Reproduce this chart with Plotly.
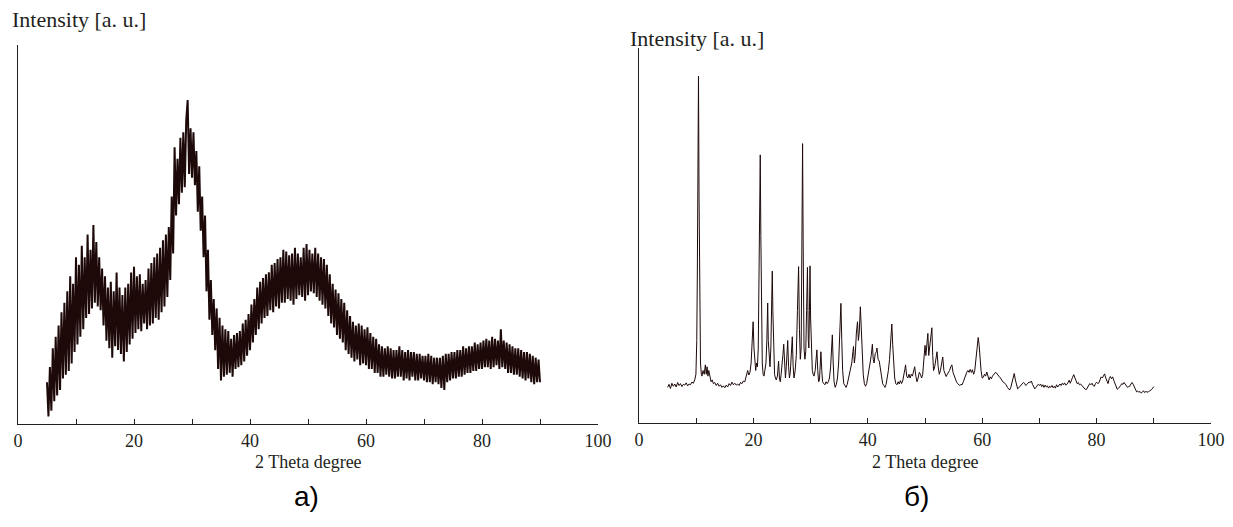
import numpy as np
import plotly.graph_objects as go

# ---------------- data ----------------
# Panel a): amorphous pattern, scan grid 5..90 deg, step 0.25
theta_a = np.round(np.arange(5, 90.001, 0.25), 2)
intensity_a = [
    11, 2, 15, 3.5,  20, 6, 23, 7.5,  26, 9, 29.5, 12,  32, 13, 35, 14,  39, 16, 37, 19,
    44, 21, 42, 23,  47, 25, 44, 28,  50, 29, 46, 30.5,  52.5, 32, 48, 31,  44, 30, 41, 26,
    39, 22, 36, 20,  37.5, 17.5, 35, 20.5,  40, 19.5, 36, 18.5,  34, 16.5, 36, 19,  37, 21, 40, 22.5,
    41.5, 24, 39, 25,  39.5, 24.5, 37, 26.5,  38, 25, 41, 26,  42.5, 26.5, 44, 28,  45, 27.5, 46.5, 29.5,
    48.5, 31, 50, 33.5,  52, 38, 60, 45,  73, 55, 70, 58,  75.5, 61, 77, 62.5,  80, 85.5, 66, 78,
    65, 77, 63, 72,  56, 68, 51, 60,  44, 55, 35, 46,  27.5, 38, 23.5, 33,  19.5, 30.5, 14.5, 28,
    11.5, 26, 12.5, 25,  13, 24.5, 13.5, 22.5,  12.5, 23.5, 14.5, 24,  15, 24.5, 15.5, 26.5,  16.5, 27.5, 18, 29,
    19.5, 31.5, 21.5, 33,  23.5, 36, 25, 37.5,  26.5, 38.5, 28, 39.5,  28.5, 40, 30, 42,  29.5, 42.5, 31, 43.5,
    30.5, 44, 32, 46,  32, 45.5, 33, 44.5,  32.5, 45, 31.5, 46.5,  33, 45, 34, 44,  33.5, 46.5, 32.5, 47.5,
    34, 46, 35, 45,  34.5, 46.5, 33.5, 45,  32.5, 44, 31.5, 43.5,  30.5, 42, 28.5, 39.5,  26.5, 37, 25.5, 35.5,
    23.5, 34.5, 22.5, 33,  21.5, 32, 19.5, 30,  18.5, 28.5, 17.5, 27,  16.5, 26, 17, 26.5,  15.5, 26, 16, 25,
    15.5, 25.5, 14.5, 24,  14.5, 23, 13.5, 22.5,  13.5, 21, 12.5, 20.5,  12.5, 20, 13, 20.5,  12.5, 20, 12, 19.5,
    12, 19.5, 12.5, 20.5,  12.5, 19.5, 11.5, 19,  12, 19.5, 11.5, 19,  12.5, 19, 11.5, 18.5,  11.5, 18.5, 12, 18,
    11.5, 18, 11, 18.5,  11, 18, 10.5, 17.5,  11, 17.5, 10.5, 17.5,  9.5, 18, 9, 18.5,  11, 18.5, 11.5, 19,
    12, 19, 12, 19.5,  12.5, 19.5, 12.5, 20.5,  13, 20, 13.5, 20.5,  13.5, 20.5, 14, 21.5,  14, 21, 14.5, 21.5,
    14.5, 22, 15, 22.5,  15, 22, 14.5, 23,  15, 22.5, 15.5, 22,  14.5, 25, 15, 22,  14.5, 21.5, 13.5, 21,
    13.5, 20.5, 13, 20,  13, 20, 12.5, 19.5,  12, 19, 11.5, 19,  12, 18.5, 11, 18,  10.5, 17.5, 11, 17,
    11,
]

# Panel б): crystalline pattern
theta_b = [
    5.0, 5.25, 5.5, 5.75, 6.0, 6.25, 6.5, 6.75, 7.0, 7.25, 7.5, 7.75, 8.0, 8.25, 8.5, 8.75, 9.0, 9.25, 9.5, 9.75,
    9.95, 10.1, 10.2, 10.3, 10.4, 10.5, 10.6, 10.75, 10.9,
    11.0, 11.2, 11.4, 11.6, 11.75, 11.9, 12.05, 12.2, 12.4, 12.6, 12.8, 13.0, 13.25, 13.5, 13.75, 14.0, 14.25, 14.5, 14.75,
    15.0, 15.25, 15.5, 15.75, 16.0, 16.25, 16.5, 16.75, 17.0, 17.25, 17.5, 17.75, 18.0, 18.25, 18.5, 18.75,
    19.0, 19.2, 19.4, 19.6, 19.8, 19.95, 20.1, 20.25, 20.4, 20.55, 20.7, 20.85, 21.0, 21.1, 21.2, 21.3, 21.4, 21.55, 21.7, 21.85,
    22.0, 22.2, 22.35, 22.5, 22.6, 22.75, 22.9, 23.05, 23.2, 23.3, 23.4, 23.55, 23.7, 23.85,
    24.0, 24.2, 24.4, 24.55, 24.7, 24.85, 25.0, 25.15, 25.3, 25.45, 25.6, 25.75, 25.9, 26.0, 26.15, 26.3, 26.45, 26.6, 26.8, 26.95,
    27.1, 27.3, 27.5, 27.7, 27.9, 28.05, 28.2, 28.35, 28.5, 28.6, 28.7, 28.85, 29.0, 29.15, 29.3, 29.45, 29.6, 29.7, 29.8, 29.9,
    30.0, 30.15, 30.3, 30.45, 30.6, 30.8, 31.0, 31.1, 31.25, 31.4, 31.55, 31.7, 31.8, 31.95, 32.1, 32.3, 32.5, 32.7, 32.9,
    33.1, 33.3, 33.5, 33.65, 33.8, 33.95, 34.1, 34.3, 34.5, 34.7, 34.9, 35.1, 35.3, 35.45, 35.6, 35.8,
    36.0, 36.2, 36.4, 36.6, 36.8, 37.0, 37.2, 37.4, 37.5, 37.65, 37.8, 38.0, 38.2, 38.35, 38.5, 38.7, 38.85,
    39.0, 39.2, 39.4, 39.6, 39.8, 40.0, 40.2, 40.4, 40.6, 40.8, 40.95, 41.1, 41.3, 41.5, 41.6, 41.8,
    42.0, 42.2, 42.4, 42.6, 42.8, 43.0, 43.2, 43.4, 43.6, 43.8, 44.0, 44.2, 44.35, 44.5, 44.7, 44.9,
    45.1, 45.3, 45.5, 45.7, 45.9, 46.1, 46.3, 46.5, 46.6, 46.8, 47.0, 47.2, 47.4, 47.6, 47.8,
    48.0, 48.2, 48.4, 48.6, 48.8, 49.0, 49.2, 49.4, 49.6, 49.8, 50.0, 50.15, 50.3, 50.5, 50.65, 50.8,
    51.0, 51.2, 51.35, 51.5, 51.7, 51.9, 52.1, 52.3, 52.5, 52.7, 52.9, 53.1, 53.3, 53.5, 53.7, 53.9,
    54.1, 54.3, 54.5, 54.7, 54.9, 55.1, 55.3, 55.5, 55.7, 55.9, 56.1, 56.3, 56.5, 56.7, 56.9,
    57.1, 57.3, 57.5, 57.7, 57.9, 58.1, 58.3, 58.5, 58.7, 58.9, 59.1, 59.3, 59.45, 59.6, 59.8,
    60.0, 60.2, 60.4, 60.6, 60.8, 61.0, 61.2, 61.4, 61.6, 61.8, 62.0, 62.2, 62.4, 62.6, 62.8,
    63.0, 63.2, 63.4, 63.6, 63.8, 64.0, 64.2, 64.4, 64.6, 64.8, 65.0, 65.2, 65.4, 65.6, 65.8,
    66.0, 66.2, 66.4, 66.6, 66.8, 67.0, 67.2, 67.4, 67.6, 67.8, 68.0, 68.2, 68.4, 68.6, 68.8,
    69.0, 69.2, 69.4, 69.6, 69.8, 70.0, 70.2, 70.4, 70.6, 70.8, 71.0, 71.2, 71.4, 71.6, 71.8,
    72.0, 72.2, 72.4, 72.6, 72.8, 73.0, 73.2, 73.4, 73.6, 73.8, 74.0, 74.2, 74.4, 74.6, 74.8,
    75.0, 75.2, 75.4, 75.6, 75.8, 76.0, 76.2, 76.4, 76.6, 76.8, 77.0, 77.2, 77.4, 77.6, 77.8,
    78.0, 78.2, 78.4, 78.6, 78.8, 79.0, 79.2, 79.4, 79.6, 79.8, 80.0, 80.2, 80.4, 80.6, 80.8,
    81.0, 81.2, 81.4, 81.6, 81.8, 82.0, 82.2, 82.4, 82.6, 82.8, 83.0, 83.2, 83.4, 83.6, 83.8,
    84.0, 84.2, 84.4, 84.6, 84.8, 85.0, 85.2, 85.4, 85.6, 85.8, 86.0, 86.2, 86.4, 86.6, 86.8,
    87.0, 87.2, 87.4, 87.6, 87.8, 88.0, 88.2, 88.4, 88.6, 88.8, 89.0, 89.2, 89.4, 89.6, 89.8, 90.0,
]
intensity_b = [
    9.5, 10.3, 9.2, 10.6, 9.8, 10.4, 9.6, 10.8, 10.0, 10.5, 9.7, 10.3, 10.1, 10.7, 9.9, 10.4, 10.2, 10.9, 10.6, 11.5,
    13, 22, 40, 75, 92.5, 60, 28, 16, 13,
    12.5, 14, 13, 15.5, 13, 15, 12.5, 14, 12, 11, 11.5, 10.5, 10.8, 10, 10.6, 9.8, 10.2, 9.5, 9.9,
    9.4, 10.1, 9.6, 10.5, 10.0, 10.9, 10.2, 10.6, 10.1, 10.4, 10.0, 10.8, 10.5, 11.2, 11.0, 12.5,
    14, 12.8, 13.5, 16, 22, 27, 20, 15, 14, 16, 15, 20, 40, 60, 71.5, 50, 24, 16, 13, 12.5,
    14, 16, 22, 32, 22, 16, 15, 20, 33, 40.5, 30, 17, 13, 12,
    11.5, 12.5, 16.5, 12, 11, 13, 15, 18, 21, 14, 12, 15, 19, 22, 15, 12, 13.5, 17, 23, 15,
    12, 14, 18, 30, 41.7, 25, 17, 20, 50, 74.5, 48, 20, 17, 19, 30, 41.5, 22, 20, 30, 41.9,
    28, 16, 14, 13, 12.5, 14, 17, 19.5, 14, 11, 11.5, 15, 19, 14, 11, 10.5, 10.2, 11, 10.5,
    11, 12, 15, 19, 23.5, 16, 11, 9.5, 10.3, 12, 16, 24, 31.9, 22, 14, 10.5,
    9.8, 9.5, 10.3, 12, 13, 14.5, 16, 19, 20.4, 16, 18, 24, 27, 22, 24, 31, 26,
    17, 13, 10.5, 9.8, 10.5, 12, 14, 16, 18, 21, 17, 16, 18.5, 19, 20, 17,
    16.5, 14, 12, 10.5, 10, 9.5, 10.3, 12, 14, 17, 22, 26.4, 21, 15, 12, 10.5,
    10.2, 11, 10.4, 11.3, 10.5, 11.2, 12.5, 14.5, 15.5, 12.5, 12, 13, 12, 13, 12.5,
    13.5, 15, 12.5, 11, 12, 13.5, 13, 12, 13, 17, 20.7, 18, 20, 23.9, 18, 20,
    22, 25.4, 18, 14, 15, 17, 19, 15, 13, 14, 16, 17.6, 14, 13, 12.4, 13,
    13.5, 14, 15, 15.5, 13.5, 12.5, 12, 11, 10.5, 10.2, 10, 10.3, 10.2, 11, 12,
    12.5, 13.5, 14, 13.5, 14.3, 13.5, 14.2, 13, 14, 17, 20, 22.8, 21, 17, 14,
    12, 12.2, 13, 12.5, 13.6, 12.5, 11.5, 12.3, 11.8, 12.5, 13, 13.3, 13.5, 13, 12.7,
    12.3, 12, 11.4, 11, 10.8, 10.5, 10.2, 9.5, 9.2, 8.8, 9.5, 11, 12.5, 13.2, 11.5,
    10, 9.1, 9.4, 9.8, 10.2, 10.3, 10.8, 10.6, 10.0, 10.3, 10.6, 10.9, 10.8, 11.2, 10.3,
    9.6, 9.1, 9.5, 9.9, 10.3, 10.0, 10.4, 9.7, 10.2, 9.5, 10.1, 9.6, 9.9, 9.3, 9.8,
    9.5, 10.0, 9.4, 9.8, 9.3, 10.2, 9.6, 9.9, 10.4, 10.0, 10.6, 10.2, 10.7, 10.1, 10.3,
    10.8, 11.4, 10.6, 11.2, 12.2, 12.9, 12.2, 11.0, 10.5, 10.8, 10.2, 10.4, 10.0, 9.6, 9.3,
    9.0, 8.9, 9.4, 10.0, 10.5, 10.2, 10.6, 10.0, 9.8, 10.5, 10.9, 10.5, 10.7, 11.5, 12.3,
    12.0, 12.6, 13.1, 12.0, 11.0, 10.5, 11.8, 12.4, 11.8, 12.3, 11.4, 10.4, 9.6, 9.0, 9.2,
    9.5, 10.0, 10.5, 10.3, 10.8, 10.4, 10.0, 9.5, 9.7, 9.8, 10.4, 10.8, 10.3, 9.6, 8.7,
    8.3, 8.5, 8.2, 8.4, 8.0, 8.2, 8.6, 8.1, 8.4, 8.3, 8.2, 8.5, 8.6, 8.9, 9.3, 9.7,
]

x_ticks = [0, 10, 20, 30, 40, 50, 60, 70, 80, 90, 100]
x_ticklabels = ["0", "", "20", "", "40", "", "60", "", "80", "", "100"]

# ---------------- figure ----------------
WIN_W, WIN_H = 1233, 527
OFF = 8  # default page body margin
W, H = WIN_W - OFF, WIN_H - OFF
LINE = "#1e0909"
TXT = "#231f20"
SERIF = "Liberation Serif"
SANS = "Liberation Sans"

fig = go.Figure()
fig.add_trace(go.Scatter(x=theta_a, y=intensity_a, mode="lines",
                         line=dict(color=LINE, width=2), xaxis="x", yaxis="y",
                         showlegend=False, hoverinfo="skip"))
fig.add_trace(go.Scatter(x=theta_b, y=intensity_b, mode="lines",
                         line=dict(color=LINE, width=1), xaxis="x2", yaxis="y2",
                         showlegend=False, hoverinfo="skip"))


def px_x(p):
    return (p - OFF) / W


def px_y(p):
    return (WIN_H - p) / H


xcommon = dict(range=[0, 100], tickmode="array", tickvals=x_ticks, ticktext=x_ticklabels,
               ticks="inside", ticklen=5, tickwidth=1.2, tickcolor=TXT,
               showline=True, linecolor=TXT, linewidth=1.4, showgrid=False, zeroline=False,
               automargin=False,
               tickfont=dict(family=SERIF, size=18, color=TXT), fixedrange=True)
ycommon = dict(range=[0, 100], showline=True, linecolor=TXT, linewidth=1.4, automargin=False,
               showgrid=False, zeroline=False, showticklabels=False, ticks="", fixedrange=True)

fig.update_layout(
    width=W, height=H,
    margin=dict(l=0, r=0, t=0, b=0, autoexpand=False),
    paper_bgcolor="white", plot_bgcolor="white",
    xaxis=dict(domain=[px_x(18), px_x(598)], anchor="y", **xcommon),
    yaxis=dict(domain=[px_y(424), px_y(45)], anchor="x", **ycommon),
    xaxis2=dict(domain=[px_x(639), px_x(1211)], anchor="y2", **xcommon),
    yaxis2=dict(domain=[px_y(423), px_y(48)], anchor="x2", **ycommon),
)

ann = [
    dict(text="Intensity [a. u.]", x=px_x(10), y=px_y(20), xanchor="left", yanchor="middle",
         font=dict(family=SERIF, size=22, color=TXT)),
    dict(text="Intensity [a. u.]", x=px_x(628), y=px_y(39), xanchor="left", yanchor="middle",
         font=dict(family=SERIF, size=22, color=TXT)),
    dict(text="2 Theta degree", x=px_x(308), y=px_y(462), xanchor="center", yanchor="middle",
         font=dict(family=SERIF, size=18, color=TXT)),
    dict(text="2 Theta degree", x=px_x(925), y=px_y(462), xanchor="center", yanchor="middle",
         font=dict(family=SERIF, size=18, color=TXT)),
    dict(text="а)", x=px_x(306), y=px_y(496), xanchor="center", yanchor="middle",
         font=dict(family=SANS, size=28, color="#000000")),
    dict(text="б)", x=px_x(916), y=px_y(496), xanchor="center", yanchor="middle",
         font=dict(family=SANS, size=28, color="#000000")),
]
for a in ann:
    a.update(xref="paper", yref="paper", showarrow=False)
fig.update_layout(annotations=ann)

fig.write_html("out.html")
